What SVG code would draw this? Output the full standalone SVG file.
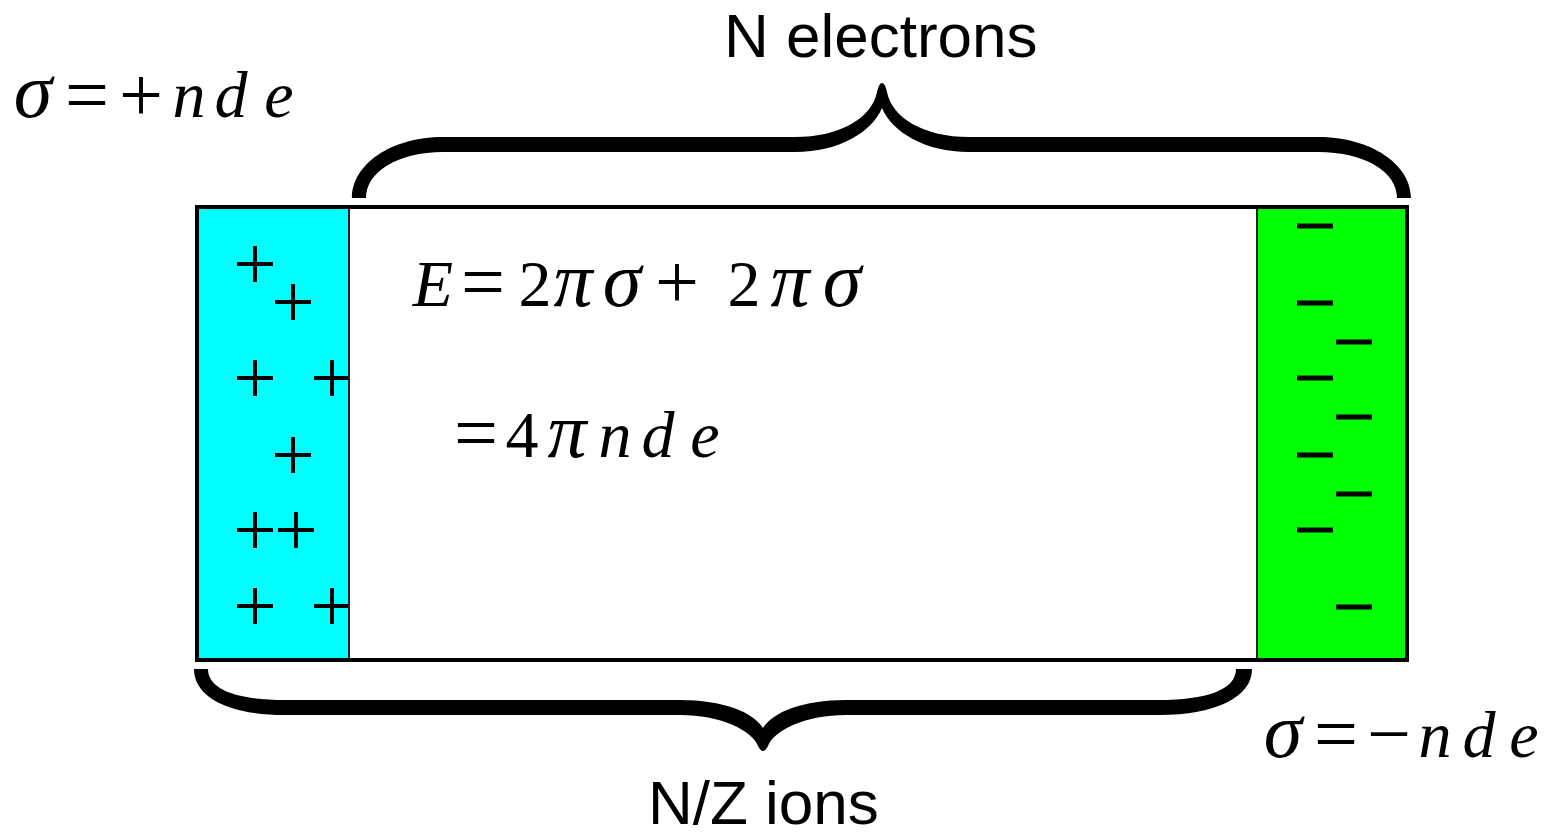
<svg xmlns="http://www.w3.org/2000/svg" width="1547" height="837" viewBox="0 0 1547 837">
  <style>
    .label { font-family: "Liberation Sans", Arial, sans-serif; font-size: 62px; fill: #000; }
    .m { font-family: "Liberation Serif", "Times New Roman", serif; font-size: 66px; fill: #000; text-anchor: middle; }
    .i { font-style: italic; }
    .s { font-size: 78px; }
    .g { font-size: 78px; font-style: italic; }
    .sign { stroke: #000; stroke-width: 4; fill: none; }
    .brace { fill: #000; stroke: none; }
  </style>
  <defs>
    <path id="plus" d="M -18 0 H 18 M 0 -18 V 18" class="sign"/>
    <path id="minus" d="M -18 0 H 18" stroke="#000" stroke-width="5" fill="none"/>
  </defs>

  <g id="panel">
    <rect x="197" y="207" width="1210" height="453" fill="#ffffff"/>
    <rect x="197" y="207" width="152" height="453" fill="#00ffff"/>
    <rect x="1257" y="207" width="150" height="453" fill="#00ff00"/>
  </g>

  <g id="ions">
    <use href="#plus" x="255" y="264"/>
    <use href="#plus" x="293" y="302"/>
    <use href="#plus" x="255" y="378"/>
    <use href="#plus" x="332" y="378"/>
    <use href="#plus" x="293" y="455"/>
    <use href="#plus" x="255" y="530"/>
    <use href="#plus" x="296" y="530"/>
    <use href="#plus" x="255" y="606"/>
    <use href="#plus" x="332" y="606"/>
  </g>

  <g id="electrons">
    <use href="#minus" x="1315" y="226"/>
    <use href="#minus" x="1315" y="303"/>
    <use href="#minus" x="1354" y="342"/>
    <use href="#minus" x="1315" y="378"/>
    <use href="#minus" x="1354" y="417"/>
    <use href="#minus" x="1315" y="455"/>
    <use href="#minus" x="1354" y="494"/>
    <use href="#minus" x="1315" y="530"/>
    <use href="#minus" x="1354" y="607"/>
  </g>

  <g id="frame">
    <line x1="349" y1="207" x2="349" y2="660" stroke="#222" stroke-width="2"/>
    <line x1="1257" y1="207" x2="1257" y2="660" stroke="#222" stroke-width="2"/>
    <rect x="197" y="207" width="1210" height="453" fill="none" stroke="#000" stroke-width="4"/>
  </g>

  <g id="connectors">
    <path id="top-brace" class="brace" d="M 352 198 C 352 165 390 137 443 137 L 795 137 C 840 137 872 118 877 92 Q 879 83 882 83 Q 885 83 887 92 C 892 118 924 137 969 137 L 1318 137 C 1372 137 1411 165 1411 198 L 1397 198 C 1397 172 1365 152 1318 152 L 969 152 C 925 152 892 132 882 108 C 872 132 839 152 795 152 L 443 152 C 398 152 366 172 366 198 Z"/>
    <path id="bottom-brace" class="brace" d="M 194 669 C 194 697 228 715 285 715 L 680 715 C 720 715 752 730 758 746 Q 763 756 768 746 C 774 730 806 715 846 715 L 1159 715 C 1216 715 1252 697 1252 669 L 1236 669 C 1236 690 1206 700 1159 700 L 846 700 C 803 700 773 712 763 728 C 753 712 723 700 680 700 L 285 700 C 238 700 208 690 208 669 Z"/>
  </g>

  <g id="label-electrons">
    <text class="label" x="724" y="57">N electrons</text>
  </g>
  <g id="label-ions">
    <text class="label" x="648" y="824">N/Z ions</text>
  </g>

  <g id="sigma-plus">
    <text class="m"><tspan class="g" x="33" y="117">σ</tspan><tspan class="s" x="87" y="121">=</tspan><tspan class="s" x="141" y="121">+</tspan><tspan class="i" x="189" y="117">n</tspan><tspan class="i" x="231" y="117">d</tspan><tspan class="i" x="279" y="117">e</tspan></text>
  </g>

  <g id="sigma-minus">
    <text class="m"><tspan class="g" x="1283" y="757">σ</tspan><tspan class="s" x="1336" y="760">=</tspan><tspan class="s" x="1389" y="760">−</tspan><tspan class="i" x="1435" y="757">n</tspan><tspan class="i" x="1479" y="757">d</tspan><tspan class="i" x="1524" y="757">e</tspan></text>
  </g>

  <g id="equation">
    <text class="m"><tspan class="i" x="433" y="306">E</tspan><tspan class="s" x="483" y="308">=</tspan><tspan x="535" y="306">2</tspan><tspan class="g" x="573" y="306">π</tspan><tspan class="g" x="622" y="306">σ</tspan><tspan class="s" x="677" y="308">+</tspan><tspan x="744" y="306">2</tspan><tspan class="g" x="790" y="306">π</tspan><tspan class="g" x="842" y="306">σ</tspan></text>
    <text class="m"><tspan class="s" x="476" y="459">=</tspan><tspan x="522" y="457">4</tspan><tspan class="g" x="567" y="457">π</tspan><tspan class="i" x="615" y="457">n</tspan><tspan class="i" x="658" y="457">d</tspan><tspan class="i" x="705" y="457">e</tspan></text>
  </g>
</svg>
